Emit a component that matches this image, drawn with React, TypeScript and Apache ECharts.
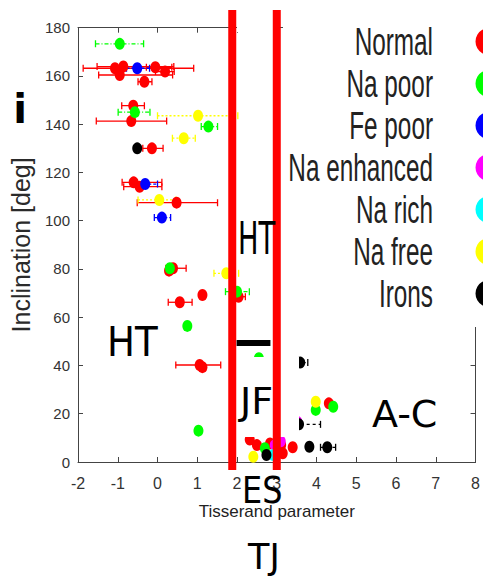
import React, { useEffect, useRef } from "react";
import * as echarts from "echarts";

// ---- data: [Tisserand parameter, inclination (deg), x-error low, x-error high] ----
const categories = ["Normal", "Na poor", "Fe poor", "Na enhanced", "Na rich", "Na free", "Irons"];

const normal: (number | null)[][] = [
  [-1.07, 163.2, -1.87, 0.91],
  [-0.86, 163.9, -1.52, 0.41],
  [-0.95, 160.4, -1.48, 0.38],
  [-0.97, 162.0, null, null],
  [-0.055, 163.6, -0.28, 0.36],
  [0.19, 161.8, -0.05, 0.42],
  [-0.33, 157.6, -0.49, -0.14],
  [-0.61, 147.7, -0.9, -0.33],
  [-0.66, 141.3, -1.54, 0.23],
  [-0.14, 130.0, -0.37, 0.14],
  [-0.6, 115.9, -0.89, 0.11],
  [-0.45, 114.1, -0.85, 0.11],
  [0.48, 107.5, -0.51, 1.51],
  [0.39, 80.3, 0.21, 0.72],
  [0.29, 79.3, null, null],
  [1.13, 69.2, null, null],
  [2.04, 68.5, 1.95, 2.21],
  [0.56, 66.2, 0.27, 0.87],
  [1.06, 40.2, 0.46, 1.59],
  [1.13, 39.3, null, null],
  [2.32, 9.3, null, null],
  [2.5, 7.0, null, null],
  [2.83, 7.7, null, null],
  [3.11, 7.0, null, null],
  [3.15, 3.6, null, null],
  [3.4, 6.1, null, null],
  [4.31, 24.3, null, null],
];

const naPoor: (number | null)[][] = [
  [-0.95, 173.3, -1.56, -0.35],
  [-0.57, 145.0, -0.99, -0.19],
  [1.28, 139.0, 1.1, 1.51],
  [0.31, 80.3, null, null],
  [2.0, 70.6, 1.71, 2.31],
  [0.75, 56.4, null, null],
  [2.55, 43.0, null, null],
  [1.03, 13.0, null, null],
  [3.98, 21.6, null, null],
  [4.42, 22.9, null, null],
  [2.7, 5.7, null, null],
];

const fePoor: (number | null)[][] = [
  [-0.51, 163.2, -0.78, -0.2],
  [-0.31, 115.2, -0.61, 0.0],
  [0.11, 101.3, -0.08, 0.33],
];

const naEnhanced: (number | null)[][] = [
  [3.52, 16.6, null, null],
  [2.95, 7.0, null, null],
  [3.1, 8.6, null, null],
];

const naRich: (number | null)[][] = [[2.91, 2.9, null, null]];

const naFree: (number | null)[][] = [
  [1.02, 143.5, 0.0, 2.02],
  [0.66, 134.2, 0.375, 0.95],
  [0.045, 108.6, -0.49, 0.46],
  [1.73, 78.2, 1.42, 2.04],
  [3.98, 25.0, null, null],
  [2.41, 2.2, null, null],
];

const irons: (number | null)[][] = [
  [-0.51, 130.0, null, null],
  [3.59, 41.2, 3.5, 3.78],
  [3.56, 15.6, 3.45, 4.1],
  [2.74, 2.9, null, null],
  [3.82, 6.3, null, null],
  [4.27, 6.1, 4.1, 4.48],
];

const groups = [normal, naPoor, fePoor, naEnhanced, naRich, naFree, irons];

// dynamical-class boundaries (Tisserand parameter) and the separator bar
const boundaryT = [1.88, 3.0];
const separator = { x0: 1.99, x1: 2.84, y: 49.3 };

// ---- styles ----
const colors = ["#ff0000", "#00ff00", "#0000ff", "#ff00ff", "#00ffff", "#ffff00", "#000000"];
const dashes: (number[] | null)[] = [null, [4, 2, 1, 2], [3, 2], [3, 2], [3, 2], [2, 2], [3, 3]];

export default function App() {
  const ref = useRef<HTMLDivElement>(null);

  useEffect(() => {
    document.body.style.margin = "0";
    const chart = echarts.init(ref.current!, null, { renderer: "svg" });

    const series: any[] = [];
    groups.forEach((data, i) => {
      const withErr = data.filter((d) => d[2] != null && d[3] != null);
      series.push({
        type: "custom",
        name: categories[i] + " error",
        data: withErr,
        clip: true,
        silent: true,
        encode: { x: [0, 2, 3], y: 1 },
        renderItem: (_params: any, api: any) => {
          const y = api.value(1);
          const a = api.coord([api.value(2), y]);
          const b = api.coord([api.value(3), y]);
          const stroke = colors[i];
          const capStyle = { stroke, lineWidth: 1.3 };
          return {
            type: "group",
            children: [
              {
                type: "line",
                shape: { x1: a[0], y1: a[1], x2: b[0], y2: b[1] },
                style: { stroke, lineWidth: 1.3, lineDash: dashes[i] || undefined },
              },
              { type: "line", shape: { x1: a[0], y1: a[1] - 3.5, x2: a[0], y2: a[1] + 3.5 }, style: capStyle },
              { type: "line", shape: { x1: b[0], y1: b[1] - 3.5, x2: b[0], y2: b[1] + 3.5 }, style: capStyle },
            ],
          };
        },
      });
      series.push({
        type: "scatter",
        name: categories[i],
        data: data.map((d) => [d[0], d[1]]),
        symbol: "circle",
        symbolSize: [10, 12],
        itemStyle: { color: colors[i], opacity: 1 },
        emphasis: { disabled: true },
      });
    });

    const axisColor = "#444";
    const labelFont = "Liberation Sans";

    chart.setOption({
      animation: false,
      backgroundColor: "#ffffff",
      grid: { left: 76.7, right: 2.3, top: 27.7, bottom: 115, containLabel: false },
      xAxis: [
        {
          type: "value",
          min: -2,
          max: 8,
          interval: 1,
          name: "Tisserand parameter",
          nameLocation: "middle",
          nameGap: 41,
          nameTextStyle: { fontFamily: labelFont, fontSize: 17, color: "#222" },
          axisLine: { show: true, onZero: false, lineStyle: { color: axisColor, width: 1 } },
          axisTick: { show: true, inside: true, length: 5, lineStyle: { color: axisColor } },
          axisLabel: { fontFamily: labelFont, fontSize: 16, color: "#333", margin: 13 },
          splitLine: { show: false },
        },
        {
          type: "value",
          position: "top",
          min: -2,
          max: 8,
          interval: 1,
          axisLine: { show: true, onZero: false, lineStyle: { color: axisColor, width: 1 } },
          axisTick: { show: true, inside: true, length: 5, lineStyle: { color: axisColor } },
          axisLabel: { show: false },
          splitLine: { show: false },
        },
      ],
      yAxis: [
        {
          type: "value",
          min: 0,
          max: 180,
          interval: 20,
          name: "Inclination [deg]",
          nameLocation: "middle",
          nameGap: 45,
          nameTextStyle: { fontFamily: labelFont, fontSize: 25, color: "#2a2a2a" },
          axisLine: { show: true, onZero: false, lineStyle: { color: axisColor, width: 1 } },
          axisTick: { show: true, inside: true, length: 5, lineStyle: { color: axisColor } },
          axisLabel: { fontFamily: labelFont, fontSize: 15, color: "#333", margin: 8 },
          splitLine: { show: false },
        },
        {
          type: "value",
          position: "right",
          min: 0,
          max: 180,
          interval: 20,
          axisLine: { show: true, onZero: false, lineStyle: { color: axisColor, width: 1 } },
          axisTick: { show: true, inside: true, length: 5, lineStyle: { color: axisColor } },
          axisLabel: { show: false },
          splitLine: { show: false },
        },
      ],
      series,
    });

    const px = (x: number) => chart.convertToPixel({ xAxisIndex: 0 }, x) as number;
    const py = (y: number) => chart.convertToPixel({ yAxisIndex: 0 }, y) as number;

    const txt = (text: string, x: number, y: number, size: number, sx = 1, extra: any = {}) => ({
      type: "text",
      x,
      y,
      scaleX: sx,
      z: 80,
      silent: true,
      style: {
        text,
        fontSize: size,
        fontFamily: "DejaVu Sans",
        fill: "#000",
        align: "left",
        textAlign: "left",
        verticalAlign: "middle",
        textVerticalAlign: "middle",
        ...extra,
      },
    });

    const rowY = [41.5, 83.5, 125.5, 167.5, 209.5, 251.5, 293.5];
    const legendEls: any[] = [];
    categories.forEach((c, i) => {
      legendEls.push({
        type: "text",
        x: 433,
        y: rowY[i],
        scaleX: 0.64,
        z: 80,
        silent: true,
        style: {
          text: c,
          fontSize: 38,
          fontFamily: "Liberation Sans",
          fill: "#222",
          align: "right",
          textAlign: "right",
          verticalAlign: "middle",
          textVerticalAlign: "middle",
        },
      });
      legendEls.push({
        type: "circle",
        z: 80,
        silent: true,
        shape: { cx: 489, cy: rowY[i], r: 13.5 },
        style: { fill: colors[i] },
      });
    });

    chart.setOption({
      graphic: [
        // legend panel background
        { type: "rect", z: 50, silent: true, shape: { x: 283, y: 0, width: 210, height: 327 }, style: { fill: "#fff" } },
        { type: "rect", z: 50, silent: true, shape: { x: 237, y: 22, width: 40, height: 10 }, style: { fill: "#fff" } },
        { type: "rect", z: 50, silent: true, shape: { x: 238, y: 357, width: 61, height: 80 }, style: { fill: "#fff" } },
        // class boundaries
        ...boundaryT.map((t) => ({
          type: "line",
          z: 60,
          silent: true,
          shape: { x1: px(t), y1: 10, x2: px(t), y2: 470 },
          style: { stroke: "#ff0000", lineWidth: 8 },
        })),
        {
          type: "line",
          z: 60,
          silent: true,
          shape: { x1: px(separator.x0), y1: py(separator.y), x2: px(separator.x1), y2: py(separator.y) },
          style: { stroke: "#000", lineWidth: 6 },
        },
        // region labels
        txt("HT", 238, 239, 44, 0.62),
        txt("HT", 107, 342, 40, 0.93),
        txt("JF", 240, 401, 38),
        txt("ES", 242, 489, 38, 0.84),
        txt("TJ", 248, 557, 35),
        txt("A-C", 372, 414, 38),
        txt("i", 20, 109, 40, 1, { fontWeight: "bold", align: "center", textAlign: "center" }),
        ...legendEls,
      ],
    });

    return () => chart.dispose();
  }, []);

  return <div ref={ref} style={{ width: 483, height: 577 }} />;
}
